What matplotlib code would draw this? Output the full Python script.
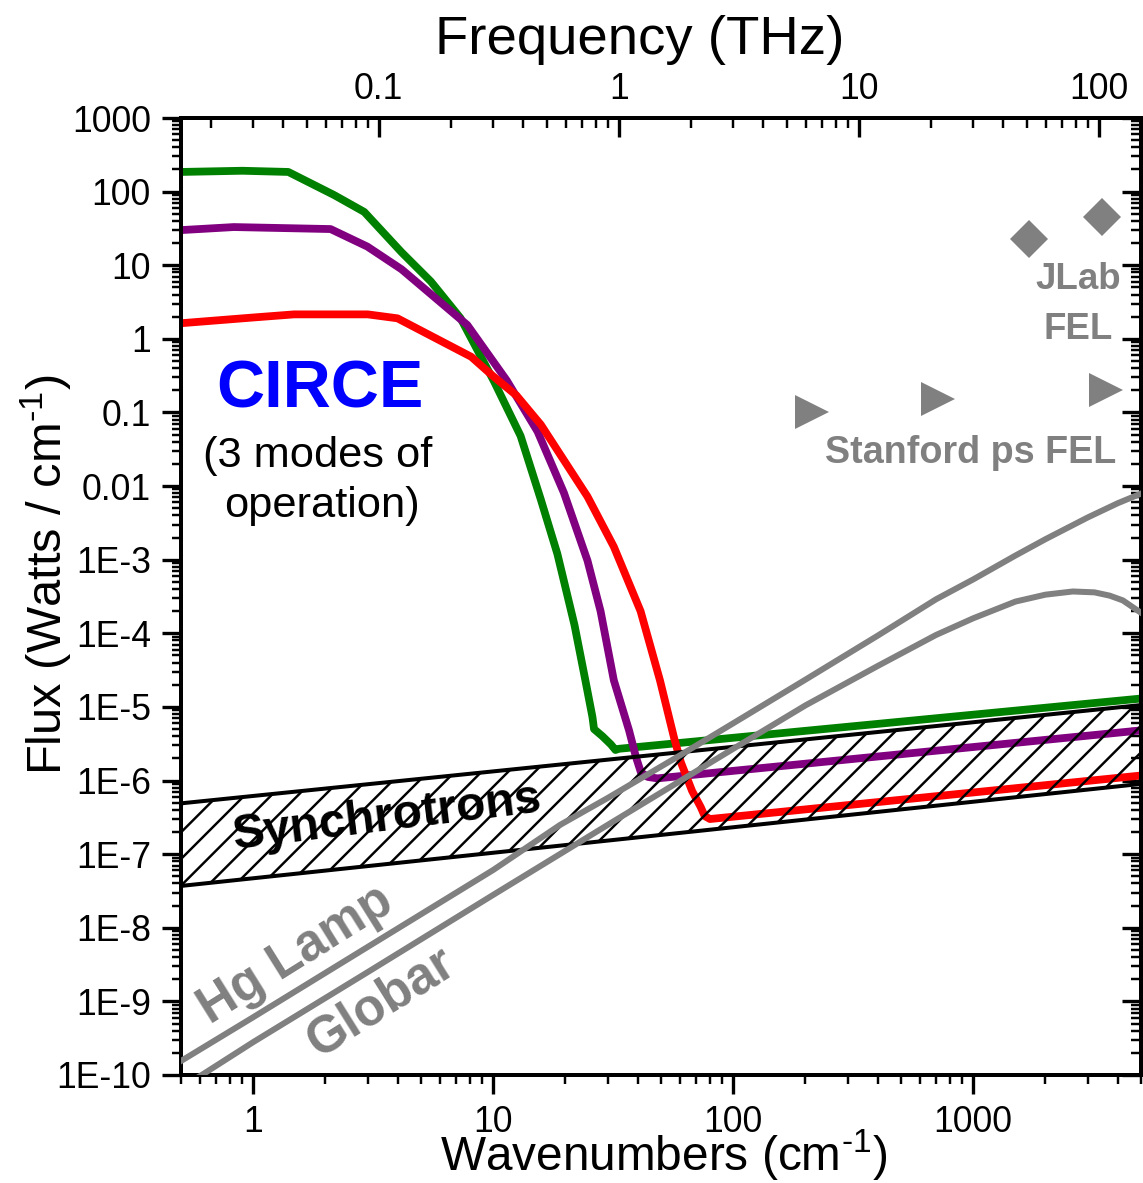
import numpy as np
import matplotlib
matplotlib.use("Agg")
import matplotlib.pyplot as plt
from matplotlib.ticker import LogLocator, FixedLocator, FixedFormatter, NullFormatter

plt.rcParams['font.family'] = ['Liberation Sans', 'DejaVu Sans']
plt.rcParams['mathtext.fontset'] = 'custom'
plt.rcParams['mathtext.rm'] = 'Liberation Sans'
plt.rcParams['mathtext.it'] = 'Liberation Sans:italic'
plt.rcParams['mathtext.bf'] = 'Liberation Sans:bold'
plt.rcParams['hatch.color'] = 'black'
plt.rcParams['hatch.linewidth'] = 1.1

CM_PER_THZ = 33.356

# CIRCE, high flux mode (green)
green_x = [0.5, 0.9, 1.4, 2.17, 2.9, 4.15, 5.5, 7.3, 10.1, 13.0, 15.8, 18.5,
           21.8, 24.2, 25.9, 26.3, 28.5, 30.9, 32.3, 33.4, 5000]
green_y = [185, 192, 185, 90, 53, 15, 6.0, 1.92, 0.26, 0.048, 6.5e-3, 1.2e-3,
           1.3e-4, 2.3e-5, 7.3e-6, 5.0e-6, 4.0e-6, 3.1e-6, 2.6e-6, 2.7e-6, 1.3e-5]

# CIRCE, middle mode (purple)
purple_x = [0.5, 0.83, 2.1, 2.99, 4.15, 7.8, 11.4, 15.3, 19.7, 24.7, 28.0,
            31.8, 36.8, 39.3, 41.2, 44.0, 48.3, 5000]
purple_y = [30, 33, 31, 17.9, 8.8, 1.54, 0.27, 0.055, 8.1e-3, 9.7e-4, 2.0e-4,
            2.3e-5, 4.8e-6, 2.1e-6, 1.3e-6, 1.12e-6, 1.07e-6, 4.8e-6]

# CIRCE, stable mode (red)
red_x = [0.5, 1.0, 1.48, 3.0, 3.99, 8.1, 10.0, 12.5, 15.8, 24.7, 31.8, 41.1,
         49.5, 56.8, 60.5, 67.4, 73.1, 76.0, 80.0, 5000]
red_y = [1.63, 1.95, 2.15, 2.15, 1.9, 0.57, 0.31, 0.17, 0.068, 7.2e-3, 1.5e-3,
         2.0e-4, 2.3e-5, 3.7e-6, 1.77e-6, 7.2e-7, 4.4e-7, 3.3e-7, 3.0e-7, 1.17e-6]

# synchrotron band
synch_x = [0.5, 5000]
synch_high = [4.9e-7, 1.06e-5]
synch_low = [3.7e-8, 9.0e-7]

# Hg lamp and globar
hg_x = [0.5, 1, 3, 10, 19, 30, 60, 100, 200, 400, 700, 1000, 1500, 2000,
        3000, 4000, 5000]
hg_y = [1.55e-10, 6.1e-10, 5.5e-9, 6.1e-8, 2.5e-7, 5.8e-7, 2.2e-6, 6.0e-6,
        2.35e-5, 9.3e-5, 2.9e-4, 5.4e-4, 1.14e-3, 1.9e-3, 3.75e-3, 5.85e-3, 7.9e-3]

globar_x = [0.58, 1, 3, 10, 30, 100, 200, 400, 700, 1000, 1500, 2000, 2600,
            3200, 3700, 4200, 5000]
globar_y = [9.0e-11, 2.8e-10, 2.5e-9, 2.8e-8, 2.5e-7, 2.7e-6, 1.05e-5,
            3.6e-5, 9.5e-5, 1.6e-4, 2.7e-4, 3.35e-4, 3.7e-4, 3.6e-4, 3.25e-4,
            2.8e-4, 1.9e-4]

# free electron lasers
jlab_x = [1710, 3430]
jlab_y = [22.7, 44.8]
stanford_x = [213, 716, 3590]
stanford_y = [0.102, 0.151, 0.20]

# ticks
x_ticks = [1, 10, 100, 1000]
x_tick_labels = ['1', '10', '100', '1000']
thz_ticks = [0.1, 1, 10, 100]
thz_tick_labels = ['0.1', '1', '10', '100']
y_ticks = [1e3, 1e2, 1e1, 1, 1e-1, 1e-2, 1e-3, 1e-4, 1e-5, 1e-6, 1e-7, 1e-8,
           1e-9, 1e-10]
y_tick_labels = ['1000', '100', '10', '1', '0.1', '0.01', '1E-3', '1E-4',
                 '1E-5', '1E-6', '1E-7', '1E-8', '1E-9', '1E-10']

GREEN = '#008000'
PURPLE = '#800080'
RED = '#ff0000'
GREY = '#808080'
BLUE = '#0000ff'

fig = plt.figure(figsize=(1143 / 160, 1183 / 160), dpi=160)
ax = fig.add_axes([181 / 1143, 108 / 1183, 960 / 1143, 957 / 1183])
ax.set_xscale('log')
ax.set_yscale('log')
ax.set_xlim(0.5, 5000)
ax.set_ylim(1e-10, 1e3)

ax.plot(green_x, green_y, color=GREEN, lw=3.5, zorder=2)
ax.plot(purple_x, purple_y, color=PURPLE, lw=3.5, zorder=2)
ax.plot(red_x, red_y, color=RED, lw=3.5, zorder=2)

ax.fill_between(synch_x, synch_low, synch_high, facecolor='none',
                edgecolor='black', hatch='//', linewidth=0, zorder=3)
ax.plot(synch_x, synch_high, color='black', lw=1.8, zorder=3)
ax.plot(synch_x, synch_low, color='black', lw=1.8, zorder=3)

ax.plot(hg_x, hg_y, color=GREY, lw=2.7, zorder=4)
ax.plot(globar_x, globar_y, color=GREY, lw=2.7, zorder=4)

ax.plot(jlab_x, jlab_y, 'D', color=GREY, ms=12, mew=0, zorder=5)
ax.plot(stanford_x, stanford_y, '>', color=GREY, ms=15, mew=0, zorder=5)

# annotations
ax.text(0.1448, 0.698, 'CIRCE', transform=ax.transAxes, ha='center',
        va='baseline', fontsize=30, fontweight='bold', color=BLUE)
ax.text(0.1424, 0.635, '(3 modes of', transform=ax.transAxes, ha='center',
        va='baseline', fontsize=19.5)
ax.text(0.1467, 0.583, 'operation)', transform=ax.transAxes, ha='center',
        va='baseline', fontsize=19.5)
ax.text(0.2146, 0.2686, 'Synchrotrons', transform=ax.transAxes, ha='center',
        va='center', rotation=7, rotation_mode='anchor', fontsize=21.5,
        fontweight='bold', zorder=6)
ax.text(0.1196, 0.125, 'Hg Lamp', transform=ax.transAxes, ha='center',
        va='center', rotation=32, rotation_mode='anchor', fontsize=23,
        fontweight='bold', color=GREY)
ax.text(0.209, 0.0763, 'Globar', transform=ax.transAxes, ha='center',
        va='center', rotation=32, rotation_mode='anchor', fontsize=23,
        fontweight='bold', color=GREY)
ax.text(0.935, 0.821, 'JLab', transform=ax.transAxes, ha='center',
        va='baseline', fontsize=16.5, fontweight='bold', color=GREY)
ax.text(0.935, 0.769, 'FEL', transform=ax.transAxes, ha='center',
        va='baseline', fontsize=16.5, fontweight='bold', color=GREY)
ax.text(0.823, 0.639, 'Stanford ps FEL', transform=ax.transAxes, ha='center',
        va='baseline', fontsize=17, fontweight='bold', color=GREY)

# axes styling
for sp in ax.spines.values():
    sp.set_linewidth(1.8)

ax.xaxis.set_major_locator(FixedLocator(x_ticks))
ax.xaxis.set_major_formatter(FixedFormatter(x_tick_labels))
ax.xaxis.set_minor_locator(LogLocator(base=10, subs=np.arange(2, 10), numticks=100))
ax.xaxis.set_minor_formatter(NullFormatter())
ax.yaxis.set_major_locator(FixedLocator(y_ticks))
ax.yaxis.set_major_formatter(FixedFormatter(y_tick_labels))
ax.yaxis.set_minor_locator(LogLocator(base=10, subs=np.arange(2, 10), numticks=100))
ax.yaxis.set_minor_formatter(NullFormatter())

ax.tick_params(which='both', direction='out', top=False, right=False)
ax.tick_params(which='major', length=8.5, width=1.5, labelsize=16)
ax.tick_params(which='minor', length=4, width=1.1)
ax.tick_params(axis='x', which='major', pad=5)
ax.tick_params(axis='y', which='major', pad=5)

top = ax.secondary_xaxis('top', functions=(lambda w: w / CM_PER_THZ,
                                           lambda f: f * CM_PER_THZ))
top.xaxis.set_major_locator(FixedLocator(thz_ticks))
top.xaxis.set_major_formatter(FixedFormatter(thz_tick_labels))
top.xaxis.set_minor_locator(LogLocator(base=10, subs=np.arange(2, 10), numticks=100))
top.xaxis.set_minor_formatter(NullFormatter())
top.tick_params(which='both', direction='in')
top.tick_params(which='major', length=8.5, width=1.5, labelsize=16, pad=5)
top.tick_params(which='minor', length=4.5, width=1.1)
top.spines['top'].set_linewidth(1.8)

right = ax.secondary_yaxis('right')
right.yaxis.set_major_locator(FixedLocator(y_ticks))
right.yaxis.set_major_formatter(NullFormatter())
right.yaxis.set_minor_locator(LogLocator(base=10, subs=np.arange(2, 10), numticks=100))
right.yaxis.set_minor_formatter(NullFormatter())
right.tick_params(which='both', direction='in')
right.tick_params(which='major', length=8.5, width=1.5)
right.tick_params(which='minor', length=4.5, width=1.1)
right.spines['right'].set_linewidth(1.8)

fig.text(640 / 1143, (1183 - 54) / 1183, 'Frequency (THz)', ha='center',
         va='baseline', fontsize=24.5)
fig.text(664 / 1143, 12 / 1183, r'Wavenumbers (cm$^{\text{-1}}$)',
         ha='center', va='baseline', fontsize=21.5)
fig.text(62 / 1143, (1183 - 575) / 1183, r'Flux (Watts / cm$^{\text{-1}}$)',
         ha='center', va='baseline', rotation=90, rotation_mode='anchor',
         fontsize=22)

fig.savefig('out.png', dpi=160)
